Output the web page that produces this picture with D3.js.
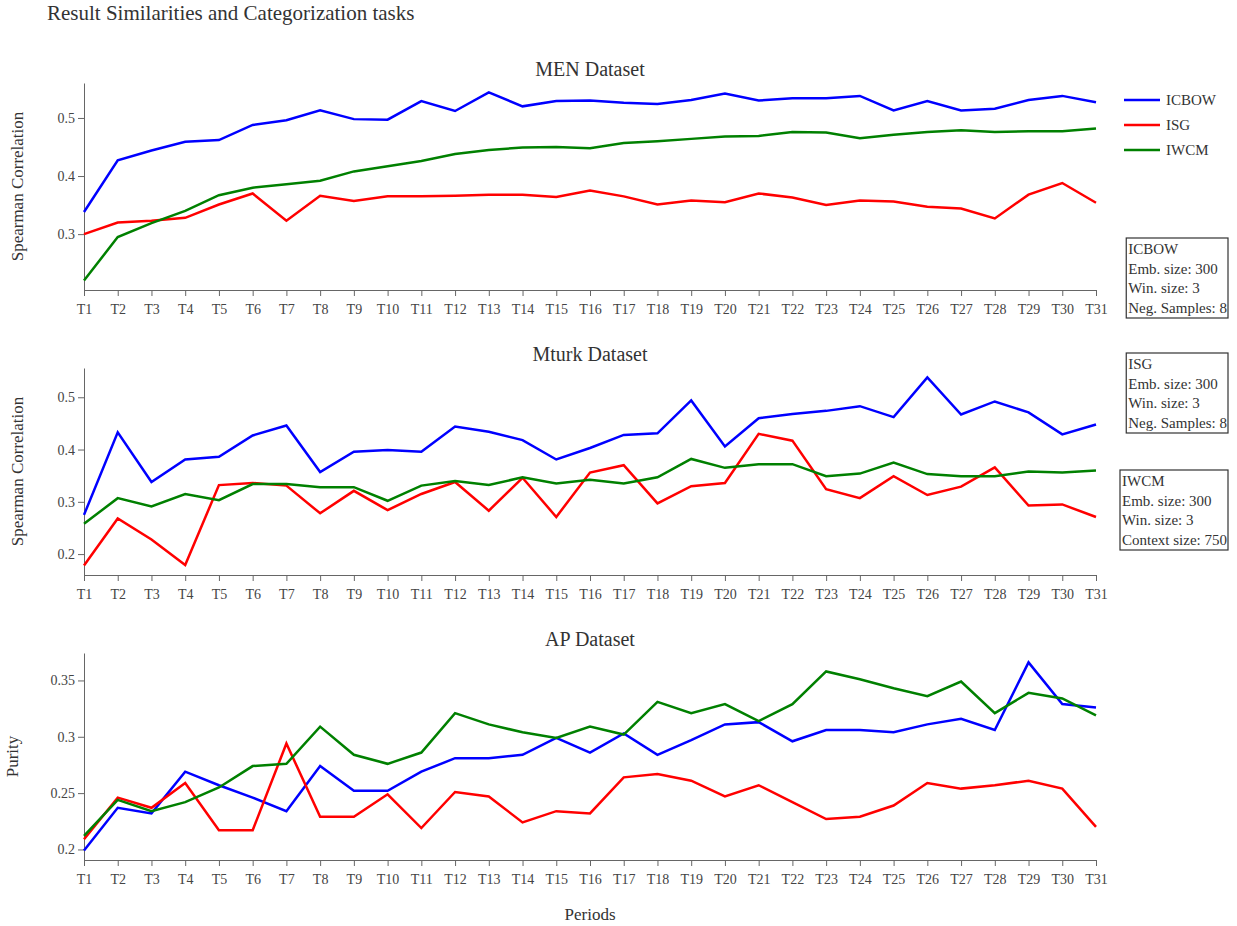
<!DOCTYPE html>
<html>
<head>
<meta charset="utf-8">
<script src="https://cdn.jsdelivr.net/npm/d3@7/dist/d3.min.js"></script>
<style>
  html, body { margin: 0; padding: 0; background: #fff; }
  svg { display: block; font-family: "Liberation Serif", "DejaVu Serif", serif; }
  .tick text { fill: #444; font-size: 14px; }
  .domain, .tick line { stroke: #666; }
</style>
</head>
<body>
<svg id="chart" width="1237" height="926"></svg>
<script>
// Time periods on the x axis
const periods = d3.range(1, 32).map(i => "T" + i);

// Model names and colours
const models = ["ICBOW", "ISG", "IWCM"];
const modelColors = ["blue", "red", "green"];

// MEN dataset – Spearman correlation per period
const menICBOW = [0.338, 0.427, 0.444, 0.459, 0.462, 0.488, 0.496, 0.513, 0.498, 0.497, 0.529, 0.512, 0.544, 0.520, 0.529, 0.530,
                  0.526, 0.524, 0.531, 0.542, 0.530, 0.534, 0.534, 0.538, 0.513, 0.529, 0.513, 0.516, 0.531, 0.538, 0.527];
const menISG   = [0.300, 0.320, 0.323, 0.328, 0.351, 0.370, 0.323, 0.366, 0.357, 0.365, 0.365, 0.366, 0.368, 0.368, 0.364, 0.375,
                  0.365, 0.351, 0.358, 0.355, 0.370, 0.363, 0.350, 0.358, 0.356, 0.347, 0.344, 0.327, 0.368, 0.388, 0.354];
const menIWCM  = [0.220, 0.295, 0.319, 0.340, 0.367, 0.380, 0.386, 0.392, 0.408, 0.417, 0.426, 0.438, 0.445, 0.449, 0.450, 0.448,
                  0.457, 0.460, 0.464, 0.468, 0.469, 0.476, 0.475, 0.465, 0.471, 0.476, 0.479, 0.476, 0.477, 0.477, 0.482];

// Mturk dataset – Spearman correlation per period
const mturkICBOW = [0.275, 0.433, 0.338, 0.381, 0.386, 0.427, 0.446, 0.357, 0.396, 0.399, 0.396, 0.444, 0.434, 0.418, 0.381, 0.403,
                    0.428, 0.431, 0.494, 0.406, 0.460, 0.468, 0.474, 0.483, 0.462, 0.538, 0.467, 0.492, 0.471, 0.429, 0.448];
const mturkISG   = [0.178, 0.268, 0.228, 0.179, 0.332, 0.336, 0.331, 0.278, 0.321, 0.284, 0.315, 0.338, 0.283, 0.346, 0.271, 0.356,
                    0.370, 0.297, 0.330, 0.336, 0.430, 0.417, 0.324, 0.307, 0.349, 0.313, 0.329, 0.366, 0.293, 0.295, 0.271];
const mturkIWCM  = [0.258, 0.307, 0.291, 0.315, 0.303, 0.334, 0.334, 0.328, 0.328, 0.302, 0.331, 0.340, 0.332, 0.347, 0.335, 0.342,
                    0.335, 0.347, 0.382, 0.365, 0.372, 0.372, 0.349, 0.354, 0.375, 0.353, 0.349, 0.349, 0.358, 0.356, 0.360];

// AP dataset – categorization purity per period
const apICBOW = [0.199, 0.237, 0.232, 0.269, 0.257, 0.246, 0.234, 0.274, 0.252, 0.252, 0.269, 0.281, 0.281, 0.284, 0.299, 0.286,
                 0.303, 0.284, 0.297, 0.311, 0.313, 0.296, 0.306, 0.306, 0.304, 0.311, 0.316, 0.306, 0.366, 0.329, 0.326];
const apISG   = [0.209, 0.246, 0.237, 0.259, 0.217, 0.217, 0.294, 0.229, 0.229, 0.249, 0.219, 0.251, 0.247, 0.224, 0.234, 0.232,
                 0.264, 0.267, 0.261, 0.247, 0.257, 0.242, 0.227, 0.229, 0.239, 0.259, 0.254, 0.257, 0.261, 0.254, 0.220];
const apIWCM  = [0.212, 0.244, 0.234, 0.242, 0.255, 0.274, 0.276, 0.309, 0.284, 0.276, 0.286, 0.321, 0.311, 0.304, 0.299, 0.309,
                 0.302, 0.331, 0.321, 0.329, 0.314, 0.329, 0.358, 0.351, 0.343, 0.336, 0.349, 0.321, 0.339, 0.334, 0.319];

// Model hyper-parameter notes
const icbowNotes = ["ICBOW", "Emb. size: 300", "Win. size: 3", "Neg. Samples: 8"];
const isgNotes   = ["ISG", "Emb. size: 300", "Win. size: 3", "Neg. Samples: 8"];
const iwcmNotes  = ["IWCM", "Emb. size: 300", "Win. size: 3", "Context size: 750"];

const panels = [
  { title: "MEN Dataset",   yLabel: "Spearman Correlation", series: [menICBOW, menISG, menIWCM] },
  { title: "Mturk Dataset", yLabel: "Spearman Correlation", series: [mturkICBOW, mturkISG, mturkIWCM] },
  { title: "AP Dataset",    yLabel: "Purity",               series: [apICBOW, apISG, apIWCM] }
];

const svg = d3.select("#chart");
const plotLeft = 84, plotRight = 1096;
const panelTops = [83, 368, 653];
const panelHeight = 207;

svg.append("text")
  .attr("x", 47).attr("y", 20)
  .attr("font-size", 21).attr("fill", "#333")
  .text("Result Similarities and Categorization tasks");

const x = d3.scalePoint().domain(periods).range([plotLeft, plotRight]);

// Axes inherit the serif face of the chart instead of d3's default sans-serif
function serifAxis(a) {
  a.attr("font-family", null).attr("font-size", null);
}

panels.forEach((p, i) => {
  const top = panelTops[i];
  const bottom = top + panelHeight;
  const all = p.series.flat();
  const lo = d3.min(all), hi = d3.max(all);
  const pad = (hi - lo) * 0.05;
  const y = d3.scaleLinear().domain([lo - pad, hi + pad]).range([bottom, top]);

  const g = svg.append("g");

  g.append("g")
    .attr("transform", `translate(0,${bottom})`)
    .call(d3.axisBottom(x).tickSizeOuter(6))
    .call(serifAxis)
    .call(a => a.selectAll("text").attr("dy", "1.05em"));

  g.append("g")
    .attr("transform", `translate(${plotLeft},0)`)
    .call(d3.axisLeft(y).ticks(5).tickFormat(d3.format("~g")).tickSizeOuter(0))
    .call(serifAxis);

  g.append("text")
    .attr("x", (plotLeft + plotRight) / 2).attr("y", top - 7)
    .attr("text-anchor", "middle").attr("font-size", 20).attr("fill", "#333")
    .text(p.title);

  g.append("text")
    .attr("transform", `translate(${i === 2 ? 18 : 23},${(top + bottom) / 2}) rotate(-90)`)
    .attr("text-anchor", "middle").attr("font-size", 17).attr("fill", "#333")
    .text(p.yLabel);

  const line = d3.line().x((d, k) => x(periods[k])).y(d => y(d));
  p.series.forEach((s, k) => {
    g.append("path")
      .datum(s)
      .attr("fill", "none")
      .attr("stroke", modelColors[k])
      .attr("stroke-width", 2.5)
      .attr("d", line);
  });
});

svg.append("text")
  .attr("x", (plotLeft + plotRight) / 2).attr("y", 920)
  .attr("text-anchor", "middle").attr("font-size", 17).attr("fill", "#333")
  .text("Periods");

// Legend
const legend = svg.append("g");
models.forEach((m, k) => {
  const ly = 100 + k * 25;
  legend.append("line")
    .attr("x1", 1124).attr("x2", 1160).attr("y1", ly).attr("y2", ly)
    .attr("stroke", modelColors[k]).attr("stroke-width", 2.5);
  legend.append("text")
    .attr("x", 1166).attr("y", ly + 5)
    .attr("font-size", 15).attr("fill", "#333")
    .text(m);
});

// Hyper-parameter boxes, right-aligned
function noteBox(lines, top) {
  const g = svg.append("g");
  const t = g.append("text").attr("font-size", 15).attr("fill", "#333");
  lines.forEach((l, k) => {
    t.append("tspan").attr("x", 0).attr("y", top + 16 + k * 19.5).text(l);
  });
  const bb = t.node().getBBox();
  const right = 1228;
  const w = bb.width + 3;
  const left = right - w;
  t.attr("transform", `translate(${left + 2},0)`);
  g.insert("rect", "text")
    .attr("x", left).attr("y", top)
    .attr("width", w).attr("height", lines.length * 19.5 + 2)
    .attr("fill", "none").attr("stroke", "#333").attr("stroke-width", 1.2);
}
noteBox(icbowNotes, 238);
noteBox(isgNotes, 353);
noteBox(iwcmNotes, 470);
</script>
</body>
</html>
